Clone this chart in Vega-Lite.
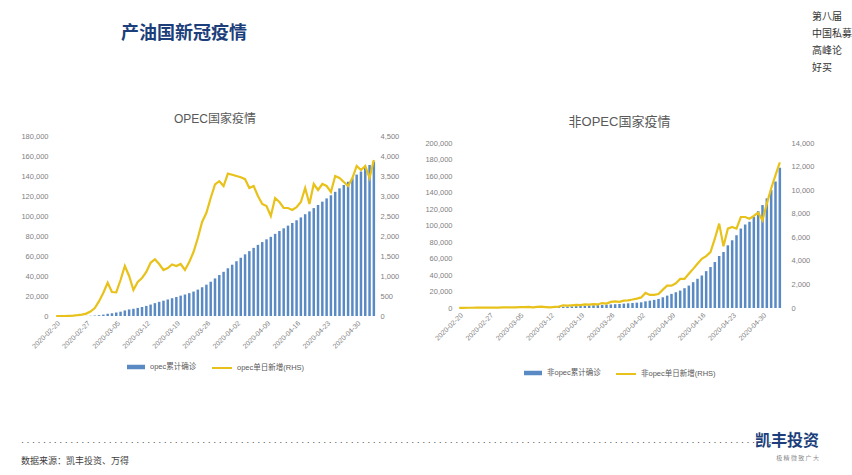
{
  "$schema": "https://vega.github.io/schema/vega-lite/v6.json",
  "background": "white",
  "padding": {"left": 20, "top": 12, "right": 0, "bottom": 0},
  "datasets": {
    "opec": [
      {"date":"2020-02-20","cum":0,"daily":0},{"date":"2020-02-21","cum":0,"daily":0},{"date":"2020-02-22","cum":0,"daily":0},{"date":"2020-02-23","cum":5,"daily":5},{"date":"2020-02-24","cum":15,"daily":10},{"date":"2020-02-25","cum":35,"daily":20},{"date":"2020-02-26","cum":70,"daily":35},{"date":"2020-02-27","cum":130,"daily":60},{"date":"2020-02-28","cum":240,"daily":110},{"date":"2020-02-29","cum":440,"daily":200},
      {"date":"2020-03-01","cum":810,"daily":370},{"date":"2020-03-02","cum":1390,"daily":580},{"date":"2020-03-03","cum":2220,"daily":830},{"date":"2020-03-04","cum":2820,"daily":600},{"date":"2020-03-05","cum":3410,"daily":590},{"date":"2020-03-06","cum":4310,"daily":900},{"date":"2020-03-07","cum":5560,"daily":1250},{"date":"2020-03-08","cum":6560,"daily":1000},{"date":"2020-03-09","cum":7210,"daily":650},{"date":"2020-03-10","cum":8060,"daily":850},
      {"date":"2020-03-11","cum":9010,"daily":950},{"date":"2020-03-12","cum":10110,"daily":1100},{"date":"2020-03-13","cum":11440,"daily":1330},{"date":"2020-03-14","cum":12860,"daily":1420},{"date":"2020-03-15","cum":14160,"daily":1300},{"date":"2020-03-16","cum":15310,"daily":1150},{"date":"2020-03-17","cum":16510,"daily":1200},{"date":"2020-03-18","cum":17800,"daily":1290},{"date":"2020-03-19","cum":19050,"daily":1250},{"date":"2020-03-20","cum":20350,"daily":1300},
      {"date":"2020-03-21","cum":21500,"daily":1150},{"date":"2020-03-22","cum":22850,"daily":1350},{"date":"2020-03-23","cum":24450,"daily":1600},{"date":"2020-03-24","cum":26400,"daily":1950},{"date":"2020-03-25","cum":28750,"daily":2350},{"date":"2020-03-26","cum":31330,"daily":2580},{"date":"2020-03-27","cum":34280,"daily":2950},{"date":"2020-03-28","cum":37570,"daily":3290},{"date":"2020-03-29","cum":40940,"daily":3370},{"date":"2020-03-30","cum":44190,"daily":3250},
      {"date":"2020-03-31","cum":47750,"daily":3560},{"date":"2020-04-01","cum":51280,"daily":3530},{"date":"2020-04-02","cum":54780,"daily":3500},{"date":"2020-04-03","cum":58250,"daily":3470},{"date":"2020-04-04","cum":61670,"daily":3420},{"date":"2020-04-05","cum":64870,"daily":3200},{"date":"2020-04-06","cum":68120,"daily":3250},{"date":"2020-04-07","cum":71120,"daily":3000},{"date":"2020-04-08","cum":73920,"daily":2800},{"date":"2020-04-09","cum":76670,"daily":2750},
      {"date":"2020-04-10","cum":79170,"daily":2500},{"date":"2020-04-11","cum":82120,"daily":2950},{"date":"2020-04-12","cum":84970,"daily":2850},{"date":"2020-04-13","cum":87670,"daily":2700},{"date":"2020-04-14","cum":90370,"daily":2700},{"date":"2020-04-15","cum":93020,"daily":2650},{"date":"2020-04-16","cum":95740,"daily":2720},{"date":"2020-04-17","cum":98590,"daily":2850},{"date":"2020-04-18","cum":101790,"daily":3200},{"date":"2020-04-19","cum":104590,"daily":2800},
      {"date":"2020-04-20","cum":107890,"daily":3300},{"date":"2020-04-21","cum":111040,"daily":3150},{"date":"2020-04-22","cum":114340,"daily":3300},{"date":"2020-04-23","cum":117590,"daily":3250},{"date":"2020-04-24","cum":120690,"daily":3100},{"date":"2020-04-25","cum":124190,"daily":3500},{"date":"2020-04-26","cum":127640,"daily":3450},{"date":"2020-04-27","cum":130990,"daily":3350},{"date":"2020-04-28","cum":134240,"daily":3250},{"date":"2020-04-29","cum":137690,"daily":3450},
      {"date":"2020-04-30","cum":141440,"daily":3750},{"date":"2020-05-01","cum":144500,"daily":3650},{"date":"2020-05-02","cum":148000,"daily":3750},{"date":"2020-05-03","cum":151000,"daily":3450},{"date":"2020-05-04","cum":154500,"daily":3900}
    ],
    "nonopec": [
      {"date":"2020-02-20","cum":20,"daily":10},{"date":"2020-02-21","cum":35,"daily":15},{"date":"2020-02-22","cum":50,"daily":20},{"date":"2020-02-23","cum":70,"daily":20},{"date":"2020-02-24","cum":95,"daily":25},{"date":"2020-02-25","cum":120,"daily":30},{"date":"2020-02-26","cum":150,"daily":30},{"date":"2020-02-27","cum":180,"daily":35},{"date":"2020-02-28","cum":220,"daily":40},{"date":"2020-02-29","cum":260,"daily":40},
      {"date":"2020-03-01","cum":300,"daily":45},{"date":"2020-03-02","cum":350,"daily":50},{"date":"2020-03-03","cum":400,"daily":55},{"date":"2020-03-04","cum":460,"daily":60},{"date":"2020-03-05","cum":530,"daily":70},{"date":"2020-03-06","cum":610,"daily":80},{"date":"2020-03-07","cum":700,"daily":90},{"date":"2020-03-08","cum":760,"daily":60},{"date":"2020-03-09","cum":860,"daily":100},{"date":"2020-03-10","cum":970,"daily":110},
      {"date":"2020-03-11","cum":1050,"daily":80},{"date":"2020-03-12","cum":1100,"daily":50},{"date":"2020-03-13","cum":1190,"daily":90},{"date":"2020-03-14","cum":1310,"daily":120},{"date":"2020-03-15","cum":1540,"daily":230},{"date":"2020-03-16","cum":1740,"daily":200},{"date":"2020-03-17","cum":1970,"daily":230},{"date":"2020-03-18","cum":2230,"daily":260},{"date":"2020-03-19","cum":2470,"daily":240},{"date":"2020-03-20","cum":2770,"daily":300},
      {"date":"2020-03-21","cum":3050,"daily":280},{"date":"2020-03-22","cum":3300,"daily":330},{"date":"2020-03-23","cum":3500,"daily":300},{"date":"2020-03-24","cum":3800,"daily":420},{"date":"2020-03-25","cum":4000,"daily":380},{"date":"2020-03-26","cum":4300,"daily":520},{"date":"2020-03-27","cum":4600,"daily":560},{"date":"2020-03-28","cum":4900,"daily":520},{"date":"2020-03-29","cum":5300,"daily":620},{"date":"2020-03-30","cum":5700,"daily":650},
      {"date":"2020-03-31","cum":6100,"daily":720},{"date":"2020-04-01","cum":6500,"daily":800},{"date":"2020-04-02","cum":6900,"daily":900},{"date":"2020-04-03","cum":8100,"daily":1280},{"date":"2020-04-04","cum":8900,"daily":1110},{"date":"2020-04-05","cum":9800,"daily":1110},{"date":"2020-04-06","cum":11000,"daily":1190},{"date":"2020-04-07","cum":13000,"daily":1560},{"date":"2020-04-08","cum":15000,"daily":1900},{"date":"2020-04-09","cum":17100,"daily":1900},
      {"date":"2020-04-10","cum":19100,"daily":2100},{"date":"2020-04-11","cum":21100,"daily":2470},{"date":"2020-04-12","cum":24000,"daily":2470},{"date":"2020-04-13","cum":27200,"daily":2900},{"date":"2020-04-14","cum":31300,"daily":3320},{"date":"2020-04-15","cum":35400,"daily":3750},{"date":"2020-04-16","cum":39400,"daily":4170},{"date":"2020-04-17","cum":44700,"daily":4400},{"date":"2020-04-18","cum":49600,"daily":4740},{"date":"2020-04-19","cum":55700,"daily":5880},
      {"date":"2020-04-20","cum":63000,"daily":7160},{"date":"2020-04-21","cum":67900,"daily":5230},{"date":"2020-04-22","cum":76000,"daily":6730},{"date":"2020-04-23","cum":82100,"daily":6870},{"date":"2020-04-24","cum":88200,"daily":6730},{"date":"2020-04-25","cum":96300,"daily":7720},{"date":"2020-04-26","cum":101200,"daily":7720},{"date":"2020-04-27","cum":104500,"daily":7580},{"date":"2020-04-28","cum":110600,"daily":7810},{"date":"2020-04-29","cum":117500,"daily":8090},
      {"date":"2020-04-30","cum":124800,"daily":7440},{"date":"2020-05-01","cum":132900,"daily":8860},{"date":"2020-05-02","cum":143100,"daily":10140},{"date":"2020-05-03","cum":153300,"daily":11270},{"date":"2020-05-04","cum":170000,"daily":12350}
    ]
  },
  "title": {"text": ["第八届", "中国私募", "高峰论", "好买"], "orient": "right", "angle": 0, "anchor": "start", "align": "left", "baseline": "top", "offset": -47, "dy": -13, "lineHeight": 17, "font": "Noto Sans CJK SC", "fontSize": 10, "fontWeight": "normal", "color": "#333333"},
  "vconcat": [
    {
      "title": {"text": "产油国新冠疫情", "anchor": "start", "dx": 100, "offset": 70, "font": "Noto Sans CJK SC", "fontSize": 18, "fontWeight": "bold", "color": "#1c3f7c"},
      "vconcat": [
        {
          "title": {"text": "凯丰投资", "subtitle": "极 精 微   致 广 大", "orient": "bottom", "anchor": "end", "dx": 5, "dy": -33, "offset": 0, "font": "Noto Sans CJK SC", "fontSize": 16, "fontWeight": "bold", "color": "#1c3f7c", "subtitleFont": "Noto Sans CJK SC", "subtitleFontSize": 6, "subtitleColor": "#8c8c8c", "subtitlePadding": 6},
          "vconcat": [
            {
              "title": {"text": ["· · · · · · · · · · · · · · · · · · · · · · · · · · · · · · · · · · · · · · · · · · · · · · · · · · · · · · · · · · · · · · · · · · · · · · · · · · · · · · · · · · · · · · · · · · · · · · · · · · · · · · · · · · · · · · · · · · · · · · · · · · · · · · · · · · · · · · · · · · · ·", "数据来源：凯丰投资、万得"], "orient": "bottom", "anchor": "start", "offset": 60, "lineHeight": 19, "font": "Liberation Sans, Noto Sans CJK SC", "fontSize": 9, "fontWeight": "normal", "color": "#404040"},
              "spacing": 25,
              "resolve": {"scale": {"fill": "independent", "stroke": "independent"}},
              "hconcat": [
                {
                  "width": 322,
                  "height": 180,
                  "title": {"text": "OPEC国家疫情", "fontSize": 12, "fontWeight": "normal", "color": "#595959", "offset": 6},
                  "data": {"name": "opec"},
                  "encoding": {
                    "x": {"field": "date", "type": "ordinal", "scale": {"paddingInner": 0.42, "paddingOuter": 0.21},
                          "axis": {"title": null, "labelAngle": -45, "labelPadding": 3, "values": ["2020-02-20","2020-02-27","2020-03-05","2020-03-12","2020-03-19","2020-03-26","2020-04-02","2020-04-09","2020-04-16","2020-04-23","2020-04-30"]}}
                  },
                  "layer": [
                    {
                      "mark": {"type": "bar"},
                      "encoding": {
                        "y": {"field": "cum", "type": "quantitative", "scale": {"domain": [0, 180000], "nice": false},
                              "axis": {"title": null, "format": ",.0f", "values": [0,20000,40000,60000,80000,100000,120000,140000,160000,180000], "labelPadding": 6}},
                        "fill": {"datum": "opec累计确诊", "scale": {"range": ["#5a8ac4"]},
                                 "legend": {"title": null, "symbolType": "M-1,-0.25H1V0.25H-1Z", "symbolSize": 324, "offset": 7}}
                      }
                    },
                    {
                      "mark": {"type": "line", "strokeWidth": 2.2},
                      "encoding": {
                        "y": {"field": "daily", "type": "quantitative", "scale": {"domain": [0, 4500], "nice": false},
                              "axis": {"title": null, "orient": "right", "format": ",.0f", "values": [0,500,1000,1500,2000,2500,3000,3500,4000,4500], "labelPadding": 4}},
                        "stroke": {"datum": "opec单日新增(RHS)", "scale": {"range": ["#e8c21a"]},
                                   "legend": {"title": null, "symbolType": "stroke", "symbolSize": 400, "symbolStrokeWidth": 2, "offset": 7}}
                      }
                    }
                  ],
                  "resolve": {"scale": {"y": "independent"}}
                },
                {
                  "width": 325,
                  "height": 172,
                  "title": {"text": "非OPEC国家疫情", "fontSize": 13, "fontWeight": "normal", "color": "#595959", "offset": 7},
                  "data": {"name": "nonopec"},
                  "encoding": {
                    "x": {"field": "date", "type": "ordinal", "scale": {"paddingInner": 0.42, "paddingOuter": 0.21},
                          "axis": {"title": null, "labelAngle": -45, "labelPadding": 3, "values": ["2020-02-20","2020-02-27","2020-03-05","2020-03-12","2020-03-19","2020-03-26","2020-04-02","2020-04-09","2020-04-16","2020-04-23","2020-04-30"]}}
                  },
                  "layer": [
                    {
                      "mark": {"type": "bar"},
                      "encoding": {
                        "y": {"field": "cum", "type": "quantitative", "scale": {"domain": [0, 200000], "nice": false, "range": [172, 7]},
                              "axis": {"title": null, "format": ",.0f", "values": [0,20000,40000,60000,80000,100000,120000,140000,160000,180000,200000], "labelPadding": 5}},
                        "fill": {"datum": "非opec累计确诊", "scale": {"range": ["#5a8ac4"]},
                                 "legend": {"title": null, "symbolType": "M-1,-0.25H1V0.25H-1Z", "symbolSize": 324, "offset": 21}}
                      }
                    },
                    {
                      "mark": {"type": "line", "strokeWidth": 2.2},
                      "encoding": {
                        "y": {"field": "daily", "type": "quantitative", "scale": {"domain": [0, 14000], "nice": false, "range": [172, 7]},
                              "axis": {"title": null, "orient": "right", "format": ",.0f", "values": [0,2000,4000,6000,8000,10000,12000,14000], "labelPadding": 9}},
                        "stroke": {"datum": "非opec单日新增(RHS)", "scale": {"range": ["#e8c21a"]},
                                   "legend": {"title": null, "symbolType": "stroke", "symbolSize": 400, "symbolStrokeWidth": 2, "offset": 21}}
                      }
                    }
                  ],
                  "resolve": {"scale": {"y": "independent"}}
                }
              ]
            }
          ]
        }
      ]
    }
  ],
  "config": {
    "font": "Liberation Sans, Noto Sans CJK SC",
    "view": {"stroke": null},
    "axis": {"labelFontSize": 7.5, "labelColor": "#7f7f7f", "domain": false, "ticks": false, "grid": false, "labelFont": "Liberation Sans, Noto Sans CJK SC"},
    "axisX": {"labelFontSize": 7},
    "title": {"font": "Liberation Sans, Noto Sans CJK SC"},
    "legend": {"orient": "bottom", "labelFontSize": 7.5, "labelColor": "#595959", "labelFont": "Liberation Sans, Noto Sans CJK SC", "layout": {"bottom": {"anchor": "middle", "direction": "horizontal", "margin": 14}}}
  }
}
